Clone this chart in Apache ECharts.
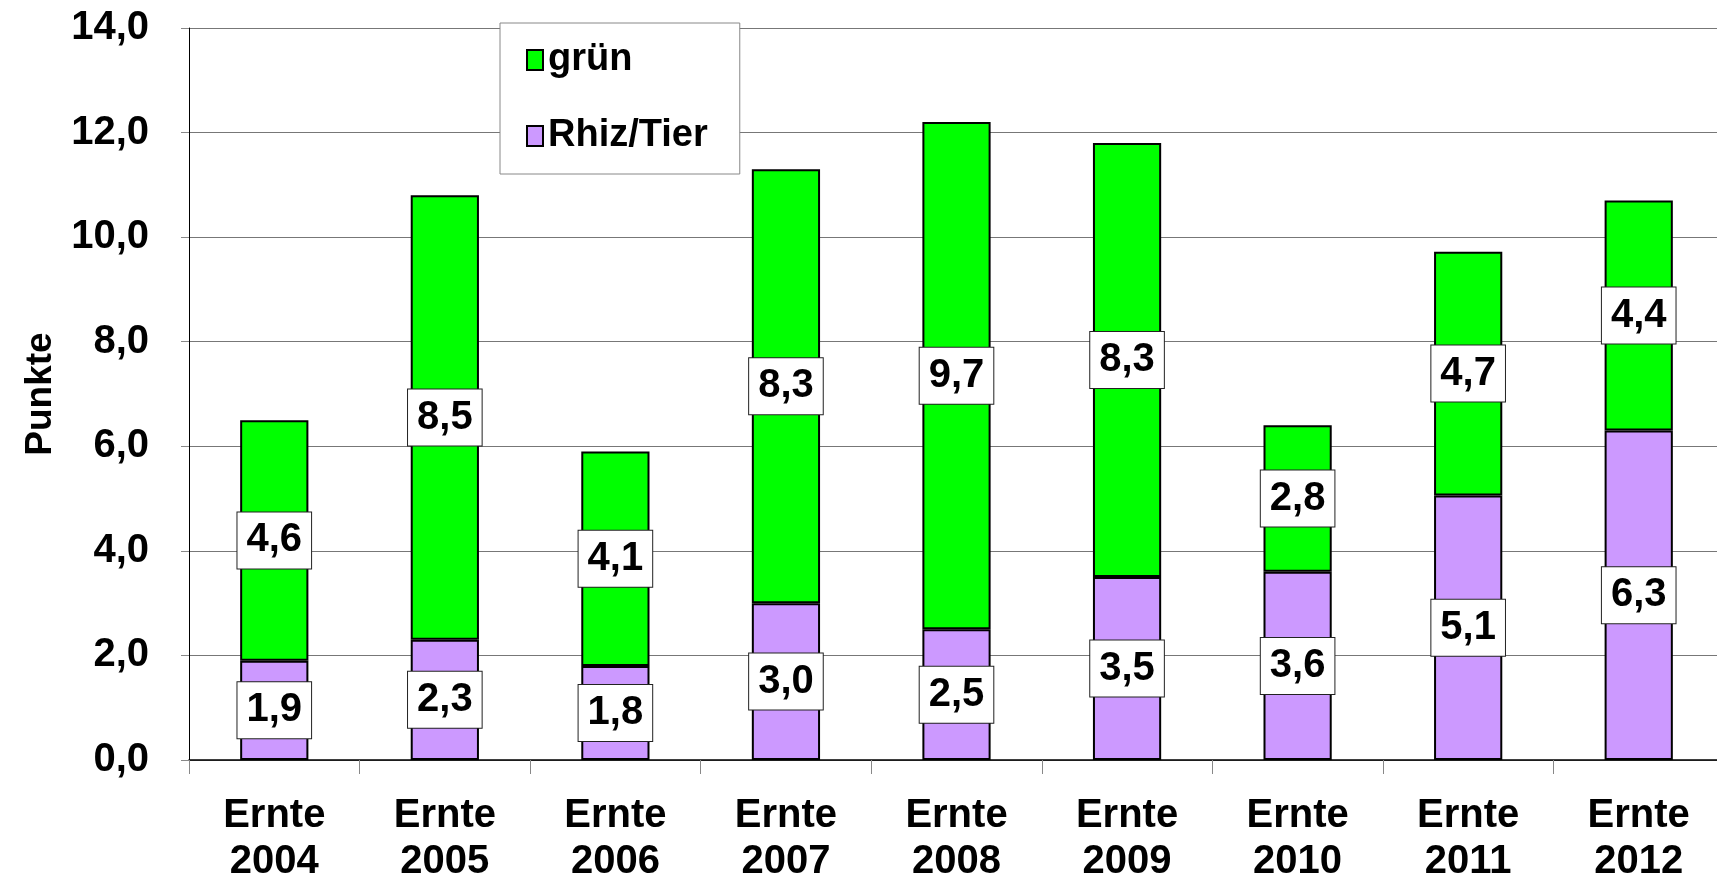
<!DOCTYPE html>
<html>
<head>
<meta charset="utf-8">
<script src="https://cdn.jsdelivr.net/npm/echarts@6/dist/echarts.min.js"></script>
<style>
  html, body { margin: 0; padding: 0; background: #fff; }
  #chart { width: 1717px; height: 879px; }
</style>
</head>
<body>
<div id="chart"></div>
<script>
  // Erntejahre
  var categories = ['Ernte\n2004', 'Ernte\n2005', 'Ernte\n2006', 'Ernte\n2007', 'Ernte\n2008',
                    'Ernte\n2009', 'Ernte\n2010', 'Ernte\n2011', 'Ernte\n2012'];
  // Werte (Beschriftung auf eine Stelle gerundet)
  var rhizTier = [1.9, 2.3, 1.8, 3.0, 2.5, 3.5, 3.6, 5.06, 6.3];
  var gruen = [4.6, 8.5, 4.1, 8.3, 9.7, 8.3, 2.8, 4.66, 4.4];

  var font = 'Liberation Sans, Arial, sans-serif';

  function komma(v) {
    return Number(v).toFixed(1).replace('.', ',');
  }

  var labelBox = {
    show: true,
    position: 'inside',
    formatter: function (p) { return komma(p.value); },
    color: '#000',
    fontFamily: font,
    fontWeight: 'bold',
    fontSize: 40,
    lineHeight: 42,
    backgroundColor: '#fff',
    borderColor: '#222',
    borderWidth: 1,
    padding: [7, 9, 7, 9]
  };

  var chart = echarts.init(document.getElementById('chart'));
  var option = {
    backgroundColor: '#fff',
    animation: false,
    grid: {
      left: 189,
      top: 28,
      bottom: 119,
      width: 1535,
      outerBoundsMode: 'none',
      containLabel: false
    },
    legend: {
      data: ['grün', 'Rhiz/Tier'],
      orient: 'vertical',
      left: 500,
      top: 23,
      icon: 'rect',
      itemWidth: 16,
      itemHeight: 20,
      itemGap: 38,
      padding: [18, 32, 19, 26],
      backgroundColor: '#fff',
      borderColor: '#888',
      borderWidth: 1,
      textStyle: {
        fontFamily: font,
        fontWeight: 'bold',
        fontSize: 38,
        color: '#000'
      }
    },
    xAxis: {
      type: 'category',
      data: categories,
      axisLine: { show: true, lineStyle: { color: '#000', width: 1.5 } },
      axisTick: { show: true, alignWithLabel: false, length: 14, lineStyle: { color: '#888' } },
      axisLabel: {
        interval: 0,
        margin: 33,
        color: '#000',
        fontFamily: font,
        fontWeight: 'bold',
        fontSize: 40,
        lineHeight: 46
      }
    },
    yAxis: {
      type: 'value',
      min: 0,
      max: 14,
      interval: 2,
      name: 'Punkte',
      nameLocation: 'middle',
      nameRotate: 90,
      nameGap: 130,
      nameTextStyle: {
        color: '#000',
        fontFamily: font,
        fontWeight: 'bold',
        fontSize: 37
      },
      axisLine: { show: true, lineStyle: { color: '#000', width: 1 } },
      axisTick: { show: true, length: 8, lineStyle: { color: '#888' } },
      splitLine: { show: true, lineStyle: { color: '#777', width: 1.2 } },
      axisLabel: {
        margin: 40,
        color: '#000',
        fontFamily: font,
        fontWeight: 'bold',
        fontSize: 40,
        formatter: function (v) { return komma(v); }
      }
    },
    series: [
      {
        name: 'Rhiz/Tier',
        type: 'bar',
        stack: 'gesamt',
        data: rhizTier,
        barWidth: '40%',
        itemStyle: { color: '#CC99FF', borderColor: '#000', borderWidth: 2 },
        label: labelBox
      },
      {
        name: 'grün',
        type: 'bar',
        stack: 'gesamt',
        data: gruen,
        barWidth: '40%',
        itemStyle: { color: '#00FF00', borderColor: '#000', borderWidth: 2 },
        label: labelBox
      }
    ]
  };
  chart.setOption(option);
  window.addEventListener('resize', function () {
    chart.resize();
  });
</script>
</body>
</html>
